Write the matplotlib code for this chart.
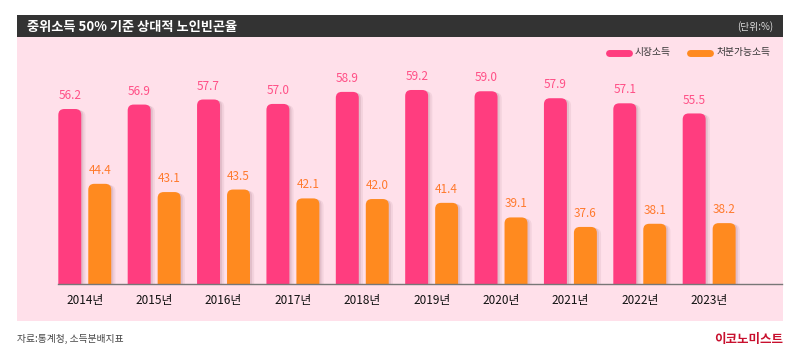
import matplotlib
matplotlib.use('Agg')
import matplotlib.pyplot as plt
import matplotlib.patheffects as pe
from matplotlib.patches import Rectangle, FancyBboxPatch
from matplotlib.lines import Line2D
import numpy as np

plt.rcParams['font.family'] = ['Noto Sans CJK KR', 'DejaVu Sans']

# 데이터
anos = ['2014년', '2015년', '2016년', '2017년', '2018년',
        '2019년', '2020년', '2021년', '2022년', '2023년']
mercado = [56.2, 56.9, 57.7, 57.0, 58.9, 59.2, 59.0, 57.9, 57.1, 55.5]
disponivel = [44.4, 43.1, 43.5, 42.1, 42.0, 41.4, 39.1, 37.6, 38.1, 38.2]

COR_ROSA = '#FF3D7F'
COR_LARANJA = '#FF8A1F'
COR_FUNDO = '#FFE0EA'

W, H = 800, 355
fig = plt.figure(figsize=(8, 3.55), dpi=100)


def fy(y):
    return 1 - y / H


# faixa do titulo e painel rosa (atras do eixo)
fig.add_artist(Rectangle((17.3 / W, fy(37)), (782.7 - 17.3) / W, 22 / H,
                         transform=fig.transFigure, color='#333333', lw=0, zorder=-10))
fig.add_artist(Rectangle((17.3 / W, fy(321)), (782.7 - 17.3) / W, 284 / H,
                         transform=fig.transFigure, color=COR_FUNDO, lw=0, zorder=-10))
fig.text(27 / W, fy(26.5), '중위소득 50% 기준 상대적 노인빈곤율', color='white',
         fontsize=9.5, fontweight='bold', va='center', ha='left')
fig.text(773 / W, fy(26.5), '(단위:%)', color='#dddddd', fontsize=7,
         va='center', ha='right')

# legenda
for x0, cor, nome in [(606, COR_ROSA, '시장소득'), (687, COR_LARANJA, '처분가능소득')]:
    fig.add_artist(Line2D([(x0 + 3) / W, (x0 + 23) / W], [fy(52.5), fy(52.5)],
                          transform=fig.transFigure, color=cor, lw=5,
                          solid_capstyle='round'))
    fig.text((x0 + 29) / W, fy(52.5), nome, fontsize=7, color='#333333',
             va='center', ha='left')

# eixo
ax = fig.add_axes([58 / W, fy(284), (782 - 58) / W, (284 - 60) / H])
ax.set_facecolor('none')
y0, y1 = 28.6, 63.93
ax.set_ylim(y0, y1)
ax.set_xlim(-0.386, 10.05)

x = np.arange(len(anos))
largura = 0.331
desloc = 0.216
base = y0 - 3

b1 = ax.bar(x - desloc, np.array(mercado) - base, largura, bottom=base, color=COR_ROSA)
b2 = ax.bar(x + desloc, np.array(disponivel) - base, largura, bottom=base, color=COR_LARANJA)

px_x = 724 / (10.05 + 0.386)
px_y = 224 / (y1 - y0)
# sombra suave: duas camadas deslocadas
sombra = [pe.SimplePatchShadow(offset=(3, -1), shadow_rgbFace='#a07080', alpha=0.12),
          pe.SimplePatchShadow(offset=(1.5, -0.5), shadow_rgbFace='#a07080', alpha=0.2),
          pe.Normal()]
for barras, cor in [(b1, COR_ROSA), (b2, COR_LARANJA)]:
    for r in barras:
        r.set_visible(False)
        p = FancyBboxPatch((r.get_x(), r.get_y()), r.get_width(), r.get_height(),
                           boxstyle='round,pad=0,rounding_size=%f' % (6 / px_x),
                           mutation_aspect=px_x / px_y, color=cor, lw=0,
                           clip_on=True)
        p.set_path_effects(sombra)
        ax.add_patch(p)

for xi, v in zip(x, mercado):
    ax.annotate(f'{v:.1f}', (xi - desloc, v), xytext=(0, 5), textcoords='offset points',
                ha='center', va='bottom', fontsize=8.5, color='#FF4F86')
for xi, v in zip(x, disponivel):
    ax.annotate(f'{v:.1f}', (xi + desloc, v), xytext=(0, 5), textcoords='offset points',
                ha='center', va='bottom', fontsize=8.5, color='#FF7A2E')

for lado in ['top', 'right', 'left']:
    ax.spines[lado].set_visible(False)
ax.spines['bottom'].set_color('#777777')
ax.spines['bottom'].set_linewidth(1)
ax.set_yticks([])
ax.set_xticks(x)
ax.set_xticklabels(anos, fontsize=8.5, color='#111111')
ax.tick_params(axis='x', length=0, pad=7.5)

# rodape
fig.text(17.3 / W, fy(339), '자료:통계청, 소득분배지표', fontsize=7, color='#444444',
         va='center', ha='left')
fig.text(782.7 / W, fy(339), '이코노미스트', fontsize=9, fontweight='bold',
         color='#C8102E', va='center', ha='right')

plt.savefig('out.png', dpi=100)
